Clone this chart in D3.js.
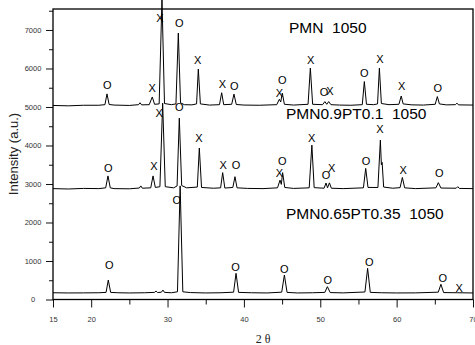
<!DOCTYPE html>
<html>
<head>
<meta charset="utf-8">
<script src="https://cdn.jsdelivr.net/npm/d3@7/dist/d3.min.js"></script>
<style>
  body { margin: 0; background: #fff; }
  svg { display: block; font-family: "Liberation Sans", Arial, sans-serif; }
</style>
</head>
<body>
<div id="chart"></div>
<script>
// XRD patterns: [2theta, intensity]
const pmn = [
  [15, 5040], [17, 5030], [19, 5045], [21, 5045], [21.8, 5060], [22.07, 5340], [22.35, 5065],
  [23, 5050], [25, 5040], [26.2, 5060], [26.4, 5110], [26.6, 5055], [27.6, 5060], [28.0, 5260],
  [28.3, 5070], [28.9, 5080], [29.27, 7800], [29.6, 5090], [30.5, 5060], [31.1, 5080],
  [31.41, 6920], [31.7, 5110], [32.2, 5060], [33.2, 5055], [33.8, 5080], [34.03, 5985],
  [34.3, 5080], [35.5, 5050], [36.8, 5060], [37.09, 5370], [37.35, 5060], [38.4, 5070],
  [38.7, 5335], [39.0, 5065], [40, 5050], [42, 5045], [44.3, 5060], [44.64, 5200], [44.82, 5130],
  [45.03, 5360], [45.3, 5070], [46.5, 5050], [48.4, 5070], [48.7, 6010], [49.0, 5070],
  [50.3, 5060], [50.6, 5140], [50.85, 5070], [51.1, 5140], [51.4, 5060], [52.5, 5050],
  [54, 5045], [55.5, 5060], [55.77, 5660], [56.05, 5070], [57.0, 5060], [57.5, 5080],
  [57.74, 6010], [58.0, 5090], [59, 5060], [60.3, 5070], [60.6, 5285], [60.85, 5080],
  [62, 5055], [63.5, 5050], [65.05, 5070], [65.33, 5270], [65.6, 5080], [66.5, 5055],
  [67.7, 5060], [67.9, 5100], [68.1, 5055], [70, 5050]
];
const pmnPt10 = [
  [15, 2880], [17, 2870], [19, 2885], [21, 2880], [21.9, 2900], [22.2, 3210], [22.5, 2900],
  [23, 2880], [25, 2875], [26.3, 2895], [26.5, 2950], [26.7, 2890], [27.8, 2900], [28.1, 3210],
  [28.4, 2910], [29.0, 2930], [29.36, 5100], [29.7, 2930], [30.8, 2900], [31.25, 2950],
  [31.54, 4710], [31.85, 2960], [32.5, 2900], [33.9, 2920], [34.16, 3935], [34.45, 2910],
  [36, 2890], [36.95, 2900], [37.22, 3295], [37.5, 2895], [38.55, 2910], [38.83, 3190],
  [39.1, 2900], [40.5, 2885], [42.5, 2880], [44.4, 2900], [44.73, 3100], [44.9, 2990],
  [45.07, 3295], [45.35, 2910], [46.5, 2885], [48.55, 2900], [48.9, 4010], [49.2, 2905],
  [50.5, 2890], [50.75, 3025], [50.95, 2900], [51.2, 3030], [51.45, 2890], [53, 2880],
  [55.65, 2900], [55.95, 3405], [56.25, 2910], [57.55, 2910], [57.87, 4140], [58.0, 3500],
  [58.1, 3560], [58.3, 2920], [59.5, 2890], [60.45, 2905], [60.75, 3170], [61.05, 2900],
  [62.5, 2880], [65.15, 2900], [65.46, 3035], [65.8, 2895], [67.8, 2890], [68.0, 2930],
  [68.2, 2885], [70, 2880]
];
const pmnPt35 = [
  [15, 175], [17, 170], [19, 172], [21, 175], [21.95, 185], [22.24, 505], [22.55, 185],
  [23.5, 175], [25, 170], [27, 175], [28.3, 185], [28.5, 220], [28.7, 180], [29.2, 190],
  [29.4, 245], [29.6, 185], [30.5, 175], [31.3, 200], [31.65, 2950], [32.0, 200], [33, 180],
  [35, 170], [37, 175], [38.65, 190], [38.97, 680], [39.3, 185], [41, 175], [43, 170],
  [44.95, 190], [45.3, 636], [45.65, 185], [47, 170], [49, 175], [50.6, 185], [50.93, 333],
  [51.3, 180], [53, 172], [55.85, 195], [56.2, 810], [56.55, 185], [58, 175], [60, 170],
  [62.5, 172], [65.45, 190], [65.8, 395], [66.15, 180], [68, 175], [70, 170]
];

// phase marks: [2theta, intensity at label centre, letter]
const marksPmn = [
  [22.1, 5564, 'O'], [28.0, 5500, 'X'], [29.0, 7300, 'X'], [31.55, 7175, 'O'], [33.95, 6220, 'X'],
  [37.2, 5600, 'X'], [38.75, 5545, 'O'], [44.64, 5370, 'X'], [45.03, 5700, 'O'], [48.74, 6220, 'X'],
  [50.5, 5400, 'O'], [51.27, 5420, 'X'], [55.77, 5890, 'O'], [57.82, 6240, 'X'], [60.66, 5545, 'X'],
  [65.38, 5485, 'O']
];
const marksPt10 = [
  [22.24, 3420, 'O'], [28.2, 3470, 'X'], [28.9, 4835, 'X'], [31.54, 5010, 'O'], [34.12, 4185, 'X'],
  [37.3, 3490, 'X'], [38.97, 3490, 'O'], [44.64, 3290, 'X'], [45.03, 3605, 'O'], [48.87, 4185, 'X'],
  [50.75, 3235, 'O'], [51.5, 3410, 'X'], [55.99, 3600, 'O'], [57.82, 4420, 'X'], [60.87, 3365, 'X'],
  [65.59, 3295, 'O']
];
const marksPt35 = [
  [22.37, 896, 'O'], [31.2, 2585, 'O'], [38.9, 852, 'O'], [45.3, 784, 'O'], [50.97, 506, 'O'],
  [56.43, 982, 'O'], [66.03, 566, 'O'], [68.2, 306, 'X']
];

const seriesNames = ['PMN  1050', 'PMN0.9PT0.1  1050', 'PMN0.65PT0.35  1050'];

const xMajor = [15, 20, 30, 40, 50, 60, 70];
const xMinor = [25, 35, 45, 55, 65];
const yMajor = [0, 1000, 2000, 3000, 4000, 5000, 6000, 7000];
const yMinor = [500, 1500, 2500, 3500, 4500, 5500, 6500, 7500];

const W = 475, H = 345;
const mLeft = 53, mRight = 473, mTop = 9, mBottom = 299.5;

const svg = d3.select('#chart').append('svg')
  .attr('width', W)
  .attr('height', H);

const x = d3.scaleLinear().domain([15, 70]).range([mLeft, mRight]);
const y = d3.scaleLinear().domain([0, 7545]).range([mBottom, mTop]);

// axes
const xAxis = svg.append('g')
  .attr('transform', `translate(0,${mBottom})`)
  .call(d3.axisBottom(x).tickValues(xMajor).tickSize(8).tickPadding(9).tickFormat(d3.format('d')));
svg.append('g')
  .attr('transform', `translate(0,${mBottom})`)
  .call(d3.axisBottom(x).tickValues(xMinor).tickSize(5).tickFormat(''));

const yAxis = svg.append('g')
  .attr('transform', `translate(${mLeft},0)`)
  .call(d3.axisLeft(y).tickValues(yMajor).tickSize(7).tickFormat(d3.format('d')));
svg.append('g')
  .attr('transform', `translate(${mLeft},0)`)
  .call(d3.axisLeft(y).tickValues(yMinor.filter(v => v < 7545)).tickSize(4).tickFormat(''));

svg.selectAll('.domain').remove();
svg.selectAll('.tick line').attr('stroke', '#111').attr('stroke-width', 1);
xAxis.selectAll('text').attr('font-size', 7.5).attr('fill', '#333').attr('font-family', 'Liberation Sans, Arial');
yAxis.selectAll('text')
  .attr('font-size', 7.5).attr('fill', '#333').attr('font-family', 'Liberation Sans, Arial')
  .attr('text-anchor', 'middle').attr('x', -20);

// data lines
const line = d3.line().x(d => x(d[0])).y(d => y(d[1]));
[pmn, pmnPt10, pmnPt35].forEach(s => {
  svg.append('path')
    .datum(s)
    .attr('fill', 'none')
    .attr('stroke', '#000')
    .attr('stroke-width', 1)
    .attr('stroke-linejoin', 'round')
    .attr('d', line);
});

// frame
svg.append('rect')
  .attr('x', mLeft).attr('y', mTop)
  .attr('width', mRight - mLeft).attr('height', mBottom - mTop)
  .attr('fill', 'none').attr('stroke', '#000').attr('stroke-width', 1.3);

// phase marks
svg.append('g').selectAll('text')
  .data([...marksPmn, ...marksPt10, ...marksPt35])
  .enter().append('text')
  .attr('x', d => x(d[0]))
  .attr('y', d => y(d[1]))
  .attr('dy', '0.36em')
  .attr('text-anchor', 'middle')
  .attr('font-size', 11)
  .attr('fill', '#000')
  .text(d => d[2]);

// series names
svg.append('g').selectAll('text')
  .data(seriesNames)
  .enter().append('text')
  .attr('x', (d, i) => [289, 286, 286][i])
  .attr('y', (d, i) => [33, 119, 219][i])
  .attr('font-size', 15.5)
  .attr('fill', '#000')
  .style('white-space', 'pre')
  .text(d => d);

// axis titles
svg.append('text')
  .attr('transform', 'translate(18,154) rotate(-90)')
  .attr('text-anchor', 'middle')
  .attr('font-size', 13)
  .attr('fill', '#222')
  .text('Intensity (a.u.)');

svg.append('text')
  .attr('x', (mLeft + mRight) / 2)
  .attr('y', 343)
  .attr('text-anchor', 'middle')
  .attr('font-family', 'Liberation Serif, Times New Roman, serif')
  .attr('font-size', 12)
  .attr('fill', '#222')
  .style('white-space', 'pre')
  .text('2 θ');
</script>
</body>
</html>
